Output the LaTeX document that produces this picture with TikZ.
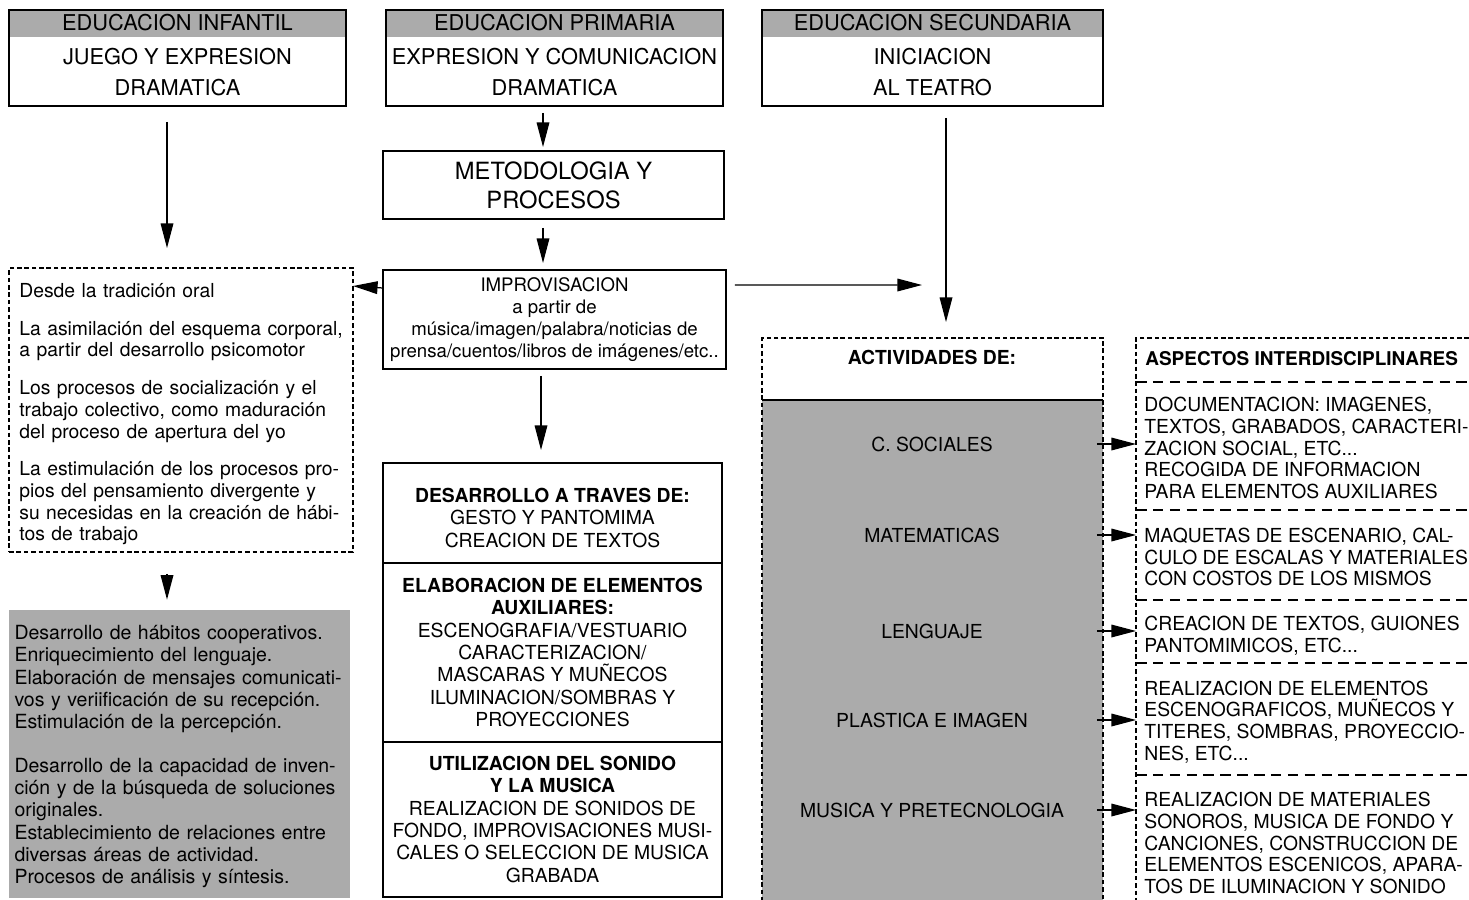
\documentclass[tikz,border=0pt]{standalone}
\usepackage{fontspec}
\setmainfont{TeX Gyre Heros}
\usepackage{tikz}
\usetikzlibrary{arrows.meta, positioning, calc}
\definecolor{trama}{gray}{0.67}

\tikzset{
  caja/.style={draw, line width=0.8pt, inner sep=0pt, outer sep=0pt},
  punteada/.style={draw, line width=0.7pt, dash pattern=on 2.6pt off 1.6pt, inner sep=0pt, outer sep=0pt},
  cabecera/.style={caja, path picture={\fill[trama] (path picture bounding box.north west) rectangle ([yshift=-0.54cm]path picture bounding box.north east);}},
  titulo/.style={font=\fontsize{12.4}{14}\selectfont},
  lema/.style={font=\fontsize{12.4}{17.6}\selectfont, align=center},
  cuerpo/.style={font=\fontsize{11}{12.4}\selectfont},
  negrita/.style={font=\fontsize{11}{12.4}\selectfont\bfseries},
  seccion/.style={caja, font=\fontsize{11}{12.7}\selectfont, align=center, minimum width=6.78cm},
  flecha/.style={-{Triangle[length=14pt,width=7.2pt]}, line width=0.7pt},
  divisoria/.style={line width=0.7pt, dash pattern=on 6pt off 3.6pt},
}

\begin{document}
\begin{tikzpicture}[x=0.02cm, y=-0.02cm]
  \clip (0,0) rectangle (1469,899);

  % Top boxes: the three stages
  \node[cabecera, minimum width=6.74cm, minimum height=1.92cm] (inf) at (177.5,58) {};
  \node[cabecera, minimum width=6.74cm, minimum height=1.92cm] (pri) at (554.5,58) {};
  \node[cabecera, minimum width=6.82cm, minimum height=1.92cm] (sec) at (932.5,58) {};

  \node[titulo] (infT) at (177.5,23) {EDUCACION INFANTIL};
  \node[titulo] (priT) at (554.5,23) {EDUCACION PRIMARIA};
  \node[titulo] (secT) at (932.5,23) {EDUCACION SECUNDARIA};

  \node[lema] (infC) at (177.5,72.5) {JUEGO Y EXPRESION\\DRAMATICA};
  \node[lema] (priC) at (554.5,72.5) {EXPRESION Y COMUNICACION\\DRAMATICA};
  \node[lema] (secC) at (932.5,72.5) {INICIACION\\AL TEATRO};

  % Middle column
  \node[caja, font=\fontsize{13.5}{16.5}\selectfont, align=center, minimum width=6.82cm, minimum height=1.36cm] (met) at (553.5,185) {METODOLOGIA Y\\PROCESOS};
  \node[caja, font=\fontsize{10.6}{12.5}\selectfont, align=center, minimum width=6.86cm, minimum height=1.98cm] (imp) at (554.5,319.5)
    {IMPROVISACION\\a partir de\\música/imagen/palabra/noticias de\\prensa/cuentos/libros de imágenes/etc..};

  \node[seccion, minimum height=2cm] (des) at (552.5,513)
    {\rule{0pt}{13.6pt}\textbf{DESARROLLO A TRAVES DE:}\\GESTO Y PANTOMIMA\\CREACION DE TEXTOS};
  \node[seccion, minimum height=3.58cm, below=0pt of des] (ela)
    {\textbf{ELABORACION DE ELEMENTOS}\\\textbf{AUXILIARES:}\\ESCENOGRAFIA/VESTUARIO\\CARACTERIZACION/\\MASCARAS Y MUÑECOS\\ILUMINACION/SOMBRAS Y\\PROYECCIONES};
  \node[seccion, minimum height=3.1cm, below=0pt of ela] (uti)
    {\textbf{UTILIZACION DEL SONIDO}\\\textbf{Y LA MUSICA}\\REALIZACION DE SONIDOS DE\\FONDO, IMPROVISACIONES MUSI-\\CALES O SELECCION DE MUSICA\\GRABADA};

  % Left column
  \node[punteada, minimum width=6.88cm, minimum height=5.68cm] (orig) at (181,410) {};
  \node[cuerpo, text width=6.5cm, align=left, anchor=north west, inner sep=0pt] (origT) at (19,283)
    {Desde la tradición oral\\[9pt]
     La asimilación del esquema corporal,\\a partir del desarrollo psicomotor\\[9pt]
     Los procesos de socialización y el\\trabajo colectivo, como maduración\\del proceso de apertura del yo\\[9pt]
     La estimulación de los procesos pro-\\pios del pensamiento divergente y\\su necesidas en la creación de hábi-\\tos de trabajo};

  \node[fill=trama, inner sep=0pt, font=\fontsize{11.1}{12.6}\selectfont, minimum width=6.82cm, minimum height=5.76cm, text width=6.6cm, align=left] (gris) at (179.5,754)
    {\rule{0pt}{11pt}Desarrollo de hábitos cooperativos.\\Enriquecimiento del lenguaje.\\Elaboración de mensajes comunicati-\\vos y veriificación de su recepción.\\Estimulación de la percepción.\\[12.6pt]
     Desarrollo de la capacidad de inven-\\ción y de la búsqueda de soluciones\\originales.\\Establecimiento de relaciones entre\\diversas áreas de actividad.\\Procesos de análisis y síntesis.};

  % Activities box
  \node[punteada, minimum width=6.82cm, minimum height=11.34cm,
        path picture={\fill[trama] ([yshift=-1.24cm]path picture bounding box.north west) rectangle (path picture bounding box.south east);}] (act) at (932.5,621.5) {};
  \draw[line width=0.8pt] ($(act.north west)+(0,62)$) -- ($(act.north east)+(0,62)$);
  \node[negrita] (actT) at (932,357) {ACTIVIDADES DE:};
  \node[cuerpo] (soc) at (932,444) {C. SOCIALES};
  \node[cuerpo] (mat) at (932,535) {MATEMATICAS};
  \node[cuerpo] (len) at (932,631) {LENGUAJE};
  \node[cuerpo] (pla) at (932,720) {PLASTICA E IMAGEN};
  \node[cuerpo] (mus) at (932,810) {MUSICA Y PRETECNOLOGIA};

  % Interdisciplinary aspects (open on the right)
  \coordinate (aspL) at (1136,338);
  \coordinate (aspR) at (1469,338);
  \coordinate (aspB) at (1136,905);
  \draw[punteada] (aspR) -- (aspL) -- (aspB);
  \foreach \y in {382,510,600,663,775}
    \draw[divisoria] (1136,\y) -- (1469,\y);

  \node[font=\fontsize{10.8}{12.4}\selectfont\bfseries, anchor=west, inner sep=0pt] (aspT) at (1145,359) {ASPECTOS INTERDISCIPLINARES};
  \node[cuerpo, anchor=west, align=left, inner sep=0pt] (asp1) at (1144,448)
    {DOCUMENTACION: IMAGENES,\\TEXTOS, GRABADOS, CARACTERI-\\ZACION SOCIAL, ETC...\\RECOGIDA DE INFORMACION\\PARA ELEMENTOS AUXILIARES};
  \node[cuerpo, anchor=west, align=left, inner sep=0pt] (asp2) at (1144,557)
    {MAQUETAS DE ESCENARIO, CAL-\\CULO DE ESCALAS Y MATERIALES\\CON COSTOS DE LOS MISMOS};
  \node[cuerpo, anchor=west, align=left, inner sep=0pt] (asp3) at (1144,635.5)
    {CREACION DE TEXTOS, GUIONES\\PANTOMIMICOS, ETC...};
  \node[cuerpo, anchor=west, align=left, inner sep=0pt] (asp4) at (1144,722)
    {REALIZACION DE ELEMENTOS\\ESCENOGRAFICOS, MUÑECOS Y\\TITERES, SOMBRAS, PROYECCIO-\\NES, ETC...};
  \node[cuerpo, anchor=west, align=left, inner sep=0pt] (asp5) at (1144,843)
    {REALIZACION DE MATERIALES\\SONOROS, MUSICA DE FONDO Y\\CANCIONES, CONSTRUCCION DE\\ELEMENTOS ESCENICOS, APARA-\\TOS DE ILUMINACION Y SONIDO};

  % Arrows
  \coordinate (libre) at (922,285);
  \draw[flecha] ($(inf.south)+(-10.5,16)$) -- ($(orig.north)+(-14,-20)$);
  \draw[flecha] ($(pri.south)+(-11.5,7)$) -- ($(met.north)+(-10.5,-4)$);
  \draw[flecha] ($(met.south)+(-10.5,9)$) -- ($(imp.north)+(-11.5,-7)$);
  \draw[flecha] ($(imp.north west)+(0,18)$) -- ($(orig.north east)+(0,18)$);
  \draw[flecha] ($(imp.north east)+(9,15)$) -- (libre);
  \draw[flecha] ($(sec.south)+(13.5,12)$) -- ($(act.north)+(13.5,-16)$);
  \draw[flecha] ($(orig.south)+(-14,22)$) -- ($(gris.north)+(-12.5,-10)$);
  \draw[flecha] ($(imp.south)+(-13.5,7)$) -- ($(des.north)+(-11.5,-13)$);
  \foreach \a in {soc,mat,len,pla,mus}
    \draw[flecha] ($(\a -| act.east)+(-6,0)$) -- (\a -| aspL);
\end{tikzpicture}
\end{document}
